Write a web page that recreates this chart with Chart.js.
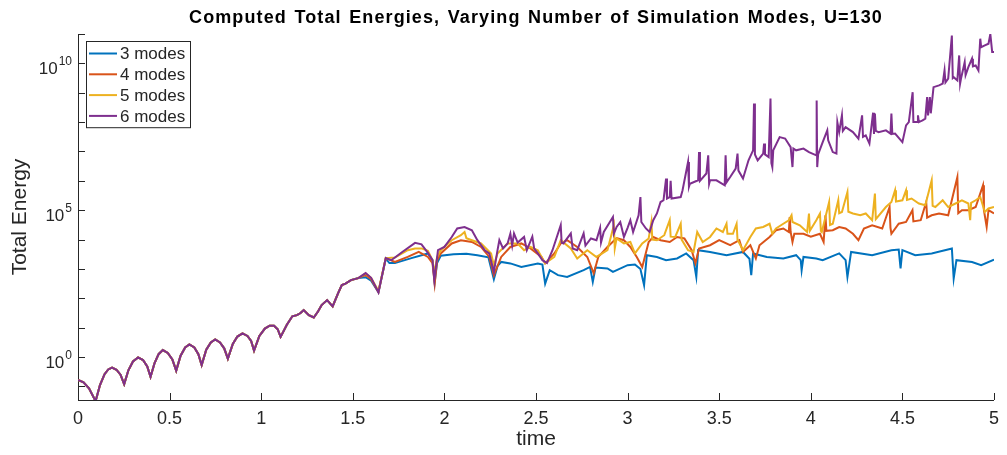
<!DOCTYPE html>
<html>
<head>
<meta charset="utf-8">
<script src="https://cdn.jsdelivr.net/npm/chart.js@4"></script>
<style>
  html, body { margin: 0; padding: 0; background: #fff; }
  #wrap { width: 1007px; height: 455px; position: relative; }
</style>
</head>
<body>
<div id="wrap"><canvas id="energyChart"></canvas></div>
<script>
// log10 of total energy, read as [time, log10(E)]
// all runs coincide up to t ~ 1.53
const sharedStart = [
  [0, -0.78], [0.03, -0.86], [0.06, -1.06], [0.096, -1.5], [0.12, -0.95], [0.145, -0.58],
  [0.165, -0.42], [0.186, -0.36], [0.21, -0.43], [0.232, -0.6], [0.252, -0.92], [0.275, -0.45],
  [0.30, -0.15], [0.328, -0.01], [0.355, -0.1], [0.378, -0.32], [0.396, -0.67], [0.418, -0.2],
  [0.44, 0.1], [0.463, 0.24], [0.49, 0.14], [0.515, -0.08], [0.536, -0.46], [0.56, 0.05],
  [0.585, 0.33], [0.608, 0.43], [0.635, 0.33], [0.657, 0.1], [0.675, -0.27], [0.70, 0.25],
  [0.725, 0.5], [0.749, 0.6], [0.775, 0.5], [0.798, 0.3], [0.818, -0.05], [0.845, 0.45],
  [0.87, 0.7], [0.898, 0.81], [0.925, 0.72], [0.945, 0.55], [0.961, 0.22], [0.99, 0.72],
  [1.02, 0.97], [1.046, 1.07], [1.07, 1.07], [1.09, 0.95], [1.106, 0.69], [1.14, 1.1],
  [1.17, 1.39], [1.195, 1.43], [1.215, 1.5], [1.232, 1.6], [1.26, 1.43], [1.287, 1.35],
  [1.31, 1.55], [1.33, 1.77], [1.36, 1.94], [1.39, 1.73], [1.42, 2.18], [1.44, 2.45],
  [1.46, 2.5], [1.49, 2.62], [1.53, 2.69]
];

const modes3 = [
  [1.57, 2.72], [1.60, 2.6], [1.64, 2.21], [1.68, 3.35], [1.70, 3.2], [1.73, 3.2], [1.82, 3.37],
  [1.91, 3.53], [1.935, 3.3], [1.947, 2.55], [1.96, 3.2], [1.98, 3.45], [2.05, 3.5], [2.12, 3.52],
  [2.18, 3.47], [2.24, 3.4], [2.27, 2.65], [2.29, 3.1], [2.31, 3.24], [2.36, 3.19], [2.42, 3.07],
  [2.51, 3.19], [2.535, 3.15], [2.55, 2.5], [2.575, 2.96], [2.62, 2.79], [2.67, 2.73], [2.76, 2.96],
  [2.795, 3.07], [2.81, 2.56], [2.825, 3.05], [2.89, 3.02], [2.92, 2.9], [3.0, 3.13], [3.04, 3.15],
  [3.07, 3.0], [3.09, 2.45], [3.105, 3.47], [3.16, 3.41], [3.21, 3.3], [3.27, 3.36], [3.32, 3.53],
  [3.36, 3.3], [3.375, 2.73], [3.385, 3.64], [3.45, 3.58], [3.54, 3.47], [3.63, 3.58], [3.665, 3.35],
  [3.675, 2.79], [3.685, 3.53], [3.76, 3.41], [3.85, 3.36], [3.92, 3.47], [3.945, 3.3], [3.95, 2.96],
  [3.96, 3.41], [4.03, 3.36], [4.065, 3.3], [4.155, 3.53], [4.19, 3.3], [4.20, 2.73], [4.22, 3.58],
  [4.335, 3.47], [4.44, 3.64], [4.48, 3.66], [4.49, 3.02], [4.50, 3.64], [4.57, 3.47], [4.66, 3.53],
  [4.77, 3.7], [4.78, 2.68], [4.795, 3.3], [4.88, 3.24], [4.93, 3.13], [5.0, 3.32]
];

const modes4 = [
  [1.57, 2.8], [1.60, 2.65], [1.64, 2.21], [1.68, 3.37], [1.73, 3.24], [1.80, 3.41], [1.86, 3.58],
  [1.91, 3.41], [1.935, 3.2], [1.947, 2.5], [1.96, 3.3], [1.98, 3.53], [2.04, 3.87], [2.09, 3.98],
  [2.15, 3.92], [2.2, 3.75], [2.245, 3.41], [2.27, 2.79], [2.31, 3.41], [2.36, 3.75], [2.42, 3.87],
  [2.47, 3.7], [2.53, 3.41], [2.55, 3.19], [2.60, 3.53], [2.635, 3.87], [2.67, 3.98], [2.725, 3.75],
  [2.78, 3.41], [2.815, 2.85], [2.84, 3.41], [2.89, 3.75], [2.94, 4.05], [2.98, 3.98], [3.015, 3.75],
  [3.05, 3.41], [3.08, 3.07], [3.115, 3.92], [3.14, 4.09], [3.18, 3.98], [3.23, 3.92], [3.27, 4.09],
  [3.31, 4.04], [3.35, 3.64], [3.37, 3.19], [3.39, 3.7], [3.45, 3.81], [3.50, 3.98], [3.56, 3.81],
  [3.61, 3.98], [3.63, 3.58], [3.67, 3.81], [3.70, 3.36], [3.72, 3.81], [3.775, 4.09], [3.81, 4.32],
  [3.85, 4.38], [3.88, 4.26], [3.885, 4.77], [3.89, 4.26], [3.90, 3.92], [3.91, 4.2], [3.96, 4.2],
  [4.0, 4.1], [4.05, 4.2], [4.07, 3.92], [4.08, 4.83], [4.085, 4.3], [4.12, 4.32], [4.155, 4.43],
  [4.19, 4.38], [4.23, 4.2], [4.26, 3.98], [4.29, 4.38], [4.335, 4.49], [4.39, 4.38], [4.43, 5.11],
  [4.435, 4.4], [4.44, 4.2], [4.48, 4.54], [4.52, 4.6], [4.555, 5.0], [4.56, 4.62], [4.60, 4.66],
  [4.63, 5.28], [4.635, 4.75], [4.66, 4.83], [4.70, 4.89], [4.75, 4.83], [4.80, 6.13], [4.805, 4.9],
  [4.825, 5.0], [4.86, 5.0], [4.90, 5.11], [4.94, 5.85], [4.945, 5.0], [4.96, 4.43], [4.97, 5.0],
  [5.0, 4.89]
];

const modes5 = [
  [1.57, 2.85], [1.60, 2.7], [1.64, 2.25], [1.68, 3.37], [1.73, 3.39], [1.80, 3.64], [1.84, 3.7],
  [1.875, 3.7], [1.91, 3.62], [1.935, 3.3], [1.945, 2.85], [1.96, 3.4], [1.98, 3.64], [2.04, 3.98],
  [2.09, 4.15], [2.11, 4.26], [2.12, 4.05], [2.15, 3.98], [2.2, 3.87], [2.255, 3.53], [2.27, 3.13],
  [2.29, 3.53], [2.345, 3.87], [2.40, 3.87], [2.435, 3.64], [2.47, 3.75], [2.51, 3.64], [2.55, 3.19],
  [2.6, 3.41], [2.635, 3.98], [2.69, 3.7], [2.725, 3.36], [2.78, 3.64], [2.83, 3.41], [2.89, 3.64],
  [2.925, 4.49], [2.93, 3.7], [2.94, 4.04], [2.98, 3.87], [3.015, 3.92], [3.04, 3.53], [3.08, 3.87],
  [3.115, 4.04], [3.13, 4.6], [3.135, 4.0], [3.16, 3.98], [3.20, 4.15], [3.23, 4.66], [3.235, 4.1],
  [3.26, 4.09], [3.29, 4.54], [3.295, 4.0], [3.33, 3.64], [3.36, 3.58], [3.38, 4.26], [3.41, 3.92],
  [3.45, 4.09], [3.485, 4.38], [3.52, 4.26], [3.54, 4.54], [3.545, 4.2], [3.575, 4.2], [3.595, 4.54],
  [3.60, 4.0], [3.63, 3.64], [3.67, 4.09], [3.70, 4.38], [3.74, 4.43], [3.775, 4.54], [3.79, 4.2],
  [3.81, 4.38], [3.85, 4.54], [3.88, 4.66], [3.895, 4.83], [3.90, 4.6], [3.94, 4.49], [3.98, 4.26],
  [3.99, 4.89], [3.995, 4.3], [4.03, 4.66], [4.05, 4.89], [4.055, 4.3], [4.06, 4.26], [4.10, 5.28],
  [4.105, 4.5], [4.12, 4.54], [4.15, 5.34], [4.155, 4.9], [4.17, 4.94], [4.20, 5.62], [4.205, 4.95],
  [4.23, 4.89], [4.27, 4.83], [4.30, 4.89], [4.335, 4.66], [4.35, 5.57], [4.355, 4.7], [4.41, 5.11],
  [4.44, 5.28], [4.46, 5.68], [4.465, 5.3], [4.50, 5.34], [4.52, 5.68], [4.525, 5.35], [4.55, 5.4],
  [4.59, 5.23], [4.625, 5.17], [4.66, 6.02], [4.665, 5.15], [4.68, 5.11], [4.72, 5.34], [4.75, 5.11],
  [4.79, 5.23], [4.825, 5.34], [4.86, 5.23], [4.87, 4.66], [4.875, 5.25], [4.90, 5.34], [4.925, 5.45],
  [4.95, 4.94], [4.97, 5.06], [5.0, 5.11]
];

const modes6 = [
  [1.57, 2.86], [1.60, 2.7], [1.64, 2.21], [1.68, 3.37], [1.71, 3.3], [1.77, 3.58], [1.84, 3.89],
  [1.875, 3.84], [1.91, 3.55], [1.935, 3.3], [1.945, 2.62], [1.965, 3.64], [2.0, 3.75], [2.04, 4.09],
  [2.07, 4.38], [2.11, 4.43], [2.15, 4.32], [2.18, 3.98], [2.22, 3.64], [2.245, 3.53], [2.27, 2.9],
  [2.29, 3.64], [2.30, 3.98], [2.32, 3.7], [2.345, 3.87], [2.36, 4.2], [2.37, 3.8], [2.38, 4.21],
  [2.40, 3.9], [2.435, 4.09], [2.45, 3.64], [2.48, 4.1], [2.49, 3.7], [2.51, 3.53], [2.535, 3.3],
  [2.56, 3.2], [2.59, 3.64], [2.635, 4.49], [2.64, 3.9], [2.65, 3.87], [2.69, 4.21], [2.70, 3.7],
  [2.725, 3.64], [2.76, 4.21], [2.77, 3.8], [2.80, 4.04], [2.83, 3.98], [2.85, 4.4], [2.855, 3.9],
  [2.87, 4.26], [2.92, 4.77], [2.925, 4.2], [2.94, 4.43], [2.96, 4.6], [2.98, 4.09], [3.0, 4.4],
  [3.015, 4.66], [3.03, 4.26], [3.06, 4.83], [3.07, 5.45], [3.075, 4.6], [3.10, 4.38], [3.12, 4.26],
  [3.14, 4.66], [3.16, 4.89], [3.18, 5.28], [3.196, 5.34], [3.21, 6.08], [3.215, 5.4], [3.23, 5.45],
  [3.235, 6.0], [3.24, 5.4], [3.29, 5.45], [3.30, 5.68], [3.33, 6.64], [3.335, 5.8], [3.34, 5.9],
  [3.385, 6.02], [3.39, 6.98], [3.395, 6.0], [3.43, 6.25], [3.44, 6.87], [3.445, 5.9], [3.45, 6.02],
  [3.485, 6.02], [3.53, 5.85], [3.535, 6.87], [3.54, 5.95], [3.56, 6.13], [3.59, 6.42], [3.60, 6.93],
  [3.605, 6.35], [3.63, 6.08], [3.66, 6.7], [3.685, 7.04], [3.69, 8.63], [3.695, 6.9], [3.71, 6.7],
  [3.74, 6.93], [3.745, 7.27], [3.75, 6.9], [3.77, 6.81], [3.78, 8.8], [3.785, 6.6], [3.79, 6.47],
  [3.795, 7.04], [3.83, 7.49], [3.86, 7.44], [3.89, 7.15], [3.90, 6.47], [3.905, 7.1], [3.92, 7.04],
  [3.96, 7.1], [3.99, 6.98], [4.03, 6.87], [4.032, 8.74], [4.035, 6.47], [4.04, 6.9], [4.065, 7.32],
  [4.09, 7.72], [4.095, 7.38], [4.12, 6.98], [4.14, 6.93], [4.145, 8.0], [4.155, 7.66], [4.17, 8.23],
  [4.175, 7.7], [4.19, 7.83], [4.23, 7.66], [4.26, 7.44], [4.28, 8.23], [4.285, 7.5], [4.30, 7.55],
  [4.32, 7.27], [4.34, 8.32], [4.345, 7.6], [4.35, 8.29], [4.355, 7.7], [4.37, 7.66], [4.41, 7.72],
  [4.435, 7.61], [4.44, 8.29], [4.445, 7.6], [4.46, 7.61], [4.50, 7.32], [4.52, 7.89], [4.535, 8.0],
  [4.556, 9.02], [4.56, 8.0], [4.58, 8.0], [4.585, 8.23], [4.59, 8.0], [4.61, 8.06], [4.625, 8.12],
  [4.635, 8.85], [4.64, 8.23], [4.65, 8.85], [4.655, 8.3], [4.67, 9.19], [4.70, 9.25], [4.72, 9.31],
  [4.73, 9.76], [4.735, 9.35], [4.75, 9.48], [4.77, 10.95], [4.775, 9.5], [4.78, 9.53], [4.80, 9.42],
  [4.81, 10.27], [4.815, 9.31], [4.82, 9.48], [4.84, 10.04], [4.845, 9.6], [4.86, 9.87], [4.88, 10.16],
  [4.885, 9.9], [4.90, 9.93], [4.915, 9.76], [4.925, 10.84], [4.93, 10.55], [4.95, 10.61],
  [4.97, 10.67], [4.98, 11.0], [4.99, 10.39], [5.0, 10.39]
];

const seriesLabels = ['3 modes', '4 modes', '5 modes', '6 modes'];
const seriesColors = ['#0072BD', '#D95319', '#EDB120', '#7E2F8E'];
const xTickValues = [0, 0.5, 1, 1.5, 2, 2.5, 3, 3.5, 4, 4.5, 5];
const yDecades = [-1, 0, 1, 2, 3, 4, 5, 6, 7, 8, 9, 10, 11];
const yLabelledDecades = [0, 5, 10];

const axisColor = '#262626';
const fontFamily = 'Helvetica, "Liberation Sans", Arial, sans-serif';

function toPoints(rows) {
    return rows.map(([t, e]) => ({ x: t, y: Math.pow(10, e) }));
}

const runs = [modes3, modes4, modes5, modes6];

// ticks drawn inside the axes, MATLAB style
const innerTicks = {
    id: 'innerTicks',
    afterDraw(chart) {
        const { ctx, chartArea, scales } = chart;
        ctx.save();
        ctx.strokeStyle = axisColor;
        ctx.lineWidth = 1;
        ctx.beginPath();
        xTickValues.forEach(v => {
            const px = Math.round(scales.x.getPixelForValue(v)) + 0.5;
            ctx.moveTo(px, chartArea.bottom);
            ctx.lineTo(px, chartArea.bottom - 7);
        });
        yDecades.forEach(k => {
            const py = Math.round(scales.y.getPixelForValue(Math.pow(10, k))) + 0.5;
            ctx.moveTo(chartArea.left, py);
            ctx.lineTo(chartArea.left + 7, py);
        });
        ctx.stroke();
        ctx.restore();
    }
};

// y labels as 10 with a raised exponent
const powerLabels = {
    id: 'powerLabels',
    afterDraw(chart) {
        const { ctx, chartArea, scales } = chart;
        const right = chartArea.left - 6;
        ctx.save();
        ctx.fillStyle = axisColor;
        ctx.textBaseline = 'alphabetic';
        ctx.textAlign = 'left';
        yLabelledDecades.forEach(k => {
            const py = scales.y.getPixelForValue(Math.pow(10, k));
            const exp = String(k);
            ctx.font = '12px ' + fontFamily;
            const expW = ctx.measureText(exp).width;
            ctx.font = '17px ' + fontFamily;
            const baseW = ctx.measureText('10').width;
            const expX = right - expW;
            ctx.fillText('10', expX - 1 - baseW, py + 11);
            ctx.font = '12px ' + fontFamily;
            ctx.fillText(exp, expX, py + 2);
        });
        ctx.restore();
    }
};

// title centred over the plot area
const plotTitle = {
    id: 'plotTitle',
    afterDraw(chart) {
        const { ctx, chartArea } = chart;
        ctx.save();
        ctx.fillStyle = '#000';
        ctx.font = 'bold 18px ' + fontFamily;
        ctx.letterSpacing = '1.1px';
        ctx.wordSpacing = '1.5px';
        ctx.textAlign = 'center';
        ctx.textBaseline = 'alphabetic';
        ctx.fillText('Computed Total Energies, Varying Number of Simulation Modes, U=130',
            (chartArea.left + chartArea.right) / 2, 23);
        ctx.restore();
    }
};

// boxed legend in the upper-left corner of the axes
const boxLegend = {
    id: 'boxLegend',
    afterDraw(chart) {
        const { ctx, chartArea } = chart;
        const x0 = chartArea.left + 8, y0 = chartArea.top + 7;
        const w = 104, rowH = 20.8;
        const h = rowH * seriesLabels.length + 3;
        ctx.save();
        ctx.fillStyle = '#fff';
        ctx.fillRect(x0, y0, w, h);
        ctx.strokeStyle = axisColor;
        ctx.lineWidth = 1;
        ctx.strokeRect(x0 + 0.5, y0 + 0.5, w, h);
        ctx.font = '17px ' + fontFamily;
        ctx.textBaseline = 'middle';
        seriesLabels.forEach((label, i) => {
            const cy = y0 + 12.5 + i * rowH;
            ctx.strokeStyle = seriesColors[i];
            ctx.lineWidth = 2;
            ctx.beginPath();
            ctx.moveTo(x0 + 3, cy);
            ctx.lineTo(x0 + 31, cy);
            ctx.stroke();
            ctx.fillStyle = axisColor;
            ctx.fillText(label, x0 + 34, cy + 1);
        });
        ctx.restore();
    }
};

document.addEventListener('DOMContentLoaded', function() {
    new Chart(document.getElementById('energyChart'), {
        type: 'line',
        data: {
            datasets: runs.map((tail, i) => ({
                label: seriesLabels[i],
                data: toPoints(sharedStart.concat(tail)),
                borderColor: seriesColors[i],
                backgroundColor: seriesColors[i],
                borderWidth: 2,
                pointRadius: 0,
                tension: 0,
                fill: false,
                order: runs.length - i // later runs drawn on top
            }))
        },
        options: {
            responsive: true,
            maintainAspectRatio: false,
            animation: false,
            layout: { padding: { top: 34, right: 8, left: 0, bottom: 0 } },
            plugins: {
                legend: { display: false },
                tooltip: { enabled: false },
                title: { display: false }
            },
            scales: {
                x: {
                    type: 'linear',
                    min: 0,
                    max: 5,
                    afterFit: scale => { scale.height = 55; },
                    afterBuildTicks: scale => { scale.ticks = xTickValues.map(v => ({ value: v })); },
                    ticks: {
                        color: axisColor,
                        font: { family: fontFamily, size: 18 },
                        padding: 8,
                        maxRotation: 0,
                        autoSkip: false,
                        callback: value => String(value)
                    },
                    grid: { display: false, drawTicks: false },
                    border: { display: true, color: axisColor, width: 1 },
                    title: {
                        display: true,
                        text: 'time',
                        color: axisColor,
                        font: { family: fontFamily, size: 21 },
                        padding: { top: 0, bottom: 3 }
                    }
                },
                y: {
                    type: 'logarithmic',
                    min: Math.pow(10, -1.46),
                    max: 1e11,
                    afterFit: scale => { scale.width = 78; },
                    afterBuildTicks: scale => { scale.ticks = yDecades.map(k => ({ value: Math.pow(10, k) })); },
                    ticks: {
                        display: false,
                        autoSkip: false
                    },
                    grid: { display: false, drawTicks: false },
                    border: { display: true, color: axisColor, width: 1 },
                    title: {
                        display: true,
                        text: 'Total Energy',
                        color: axisColor,
                        font: { family: fontFamily, size: 21 },
                        padding: { top: 8, bottom: 0 }
                    }
                }
            }
        },
        plugins: [innerTicks, powerLabels, plotTitle, boxLegend]
    });
});
</script>
</body>
</html>
